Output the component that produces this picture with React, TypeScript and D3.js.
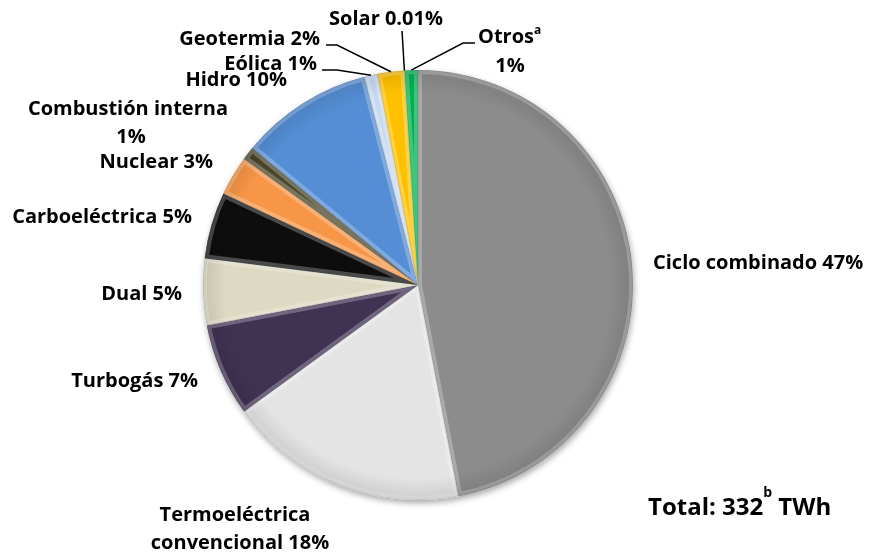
import React from 'react';
import * as d3 from 'd3';

const categories = [
  'Ciclo combinado', 'Termoeléctrica convencional', 'Turbogás', 'Dual', 'Carboeléctrica',
  'Nuclear', 'Combustión interna', 'Hidro', 'Eólica', 'Geotermia', 'Solar', 'Otros',
];
const shares = [47, 18, 7, 5, 5, 3, 1, 10, 1, 2, 0.01, 1];
const shareLabels = ['47%', '18%', '7%', '5%', '5%', '3%', '1%', '10%', '1%', '2%', '0.01%', '1%'];
const sliceColors = [
  '#8C8C8C', '#E4E4E4', '#403152', '#DDD9C3', '#0D0D0D', '#F79646',
  '#4A452A', '#558ED5', '#C6D9F1', '#FFC000', '#FFFF00', '#00B050',
];
const totalValue = '332';
const totalNote = 'b';
const totalUnit = 'TWh';

// label layout (text placement only)
type Line = { t: string; x: number; y: number; a: 'start' | 'middle' | 'end'; sup?: string };
const labelLayout: Line[][] = [
  [{ t: `${categories[0]} ${shareLabels[0]}`, x: 653, y: 269, a: 'start' }],
  [
    { t: 'Termoeléctrica', x: 235, y: 521, a: 'middle' },
    { t: `convencional ${shareLabels[1]}`, x: 240, y: 549, a: 'middle' },
  ],
  [{ t: `${categories[2]} ${shareLabels[2]}`, x: 198, y: 387, a: 'end' }],
  [{ t: `${categories[3]} ${shareLabels[3]}`, x: 182, y: 300, a: 'end' }],
  [{ t: `${categories[4]} ${shareLabels[4]}`, x: 192, y: 223, a: 'end' }],
  [{ t: `${categories[5]} ${shareLabels[5]}`, x: 213, y: 168, a: 'end' }],
  [
    { t: categories[6], x: 228, y: 115, a: 'end' },
    { t: shareLabels[6], x: 131, y: 143, a: 'middle' },
  ],
  [{ t: `${categories[7]} ${shareLabels[7]}`, x: 287, y: 86, a: 'end' }],
  [{ t: `${categories[8]} ${shareLabels[8]}`, x: 317, y: 70, a: 'end' }],
  [{ t: `${categories[9]} ${shareLabels[9]}`, x: 320, y: 45, a: 'end' }],
  [{ t: `${categories[10]} ${shareLabels[10]}`, x: 386, y: 25, a: 'middle' }],
  [
    { t: categories[11], x: 478, y: 43, a: 'start', sup: 'a' },
    { t: shareLabels[11], x: 510, y: 72, a: 'middle' },
  ],
];
// leader lines: start and elbow points; end is computed on the pie edge
const leaders: { i: number; pts: [number, number][] }[] = [
  { i: 11, pts: [[475, 43], [463, 43]] },
  { i: 10, pts: [[402, 31]] },
  { i: 9, pts: [[326, 45], [337, 45]] },
  { i: 8, pts: [[322, 70], [337, 70]] },
];

const W = 869;
const H = 554;
const cx = 418;
const cy = 285;
const R = 215;
const FONT = '"Open Sans", Lato, sans-serif';

export default function App() {
  const pie = d3.pie<number>().sort(null).value((d) => d).startAngle(0).endAngle(2 * Math.PI);
  const arcs = pie(shares);
  const arc = d3.arc<d3.PieArcDatum<number>>().innerRadius(0).outerRadius(R);
  const mid = (a: d3.PieArcDatum<number>) => (a.startAngle + a.endAngle) / 2;
  const edge = (a: d3.PieArcDatum<number>): [number, number] => [
    cx + R * Math.sin(mid(a)),
    cy - R * Math.cos(mid(a)),
  ];
  const line = d3.line();

  return (
    <svg width={W} height={H} style={{ position: 'absolute', left: 0, top: 0, background: '#fff' }}>
      <defs>
        <filter id="shadow" x="-20%" y="-20%" width="140%" height="140%">
          <feDropShadow dx="1" dy="3" stdDeviation="3" floodColor="#000" floodOpacity="0.35" />
        </filter>
        {arcs.map((a, i) => (
          <clipPath id={`clip${i}`} key={i}>
            <path d={arc(a) || ''} transform={`translate(${cx},${cy})`} />
          </clipPath>
        ))}
        <radialGradient id="shade" cx="0.5" cy="0.5" r="0.5">
          <stop offset="0.9" stopColor="#000" stopOpacity="0" />
          <stop offset="1" stopColor="#000" stopOpacity="0.1" />
        </radialGradient>
      </defs>
      <g filter="url(#shadow)">
        {arcs.map((a, i) => (
          <path key={i} d={arc(a) || ''} transform={`translate(${cx},${cy})`} fill={sliceColors[i]} />
        ))}
      </g>
      {arcs.map((a, i) => (
        <g key={`b${i}`} clipPath={`url(#clip${i})`}>
          <path
            d={arc(a) || ''}
            transform={`translate(${cx},${cy})`}
            fill="none"
            stroke="#fff"
            strokeOpacity={0.25}
            strokeWidth={8}
            strokeLinejoin="round"
          />
          <path
            d={arc(a) || ''}
            transform={`translate(${cx},${cy})`}
            fill="none"
            stroke="#000"
            strokeOpacity={0.12}
            strokeWidth={1.2}
          />
        </g>
      ))}
      <circle cx={cx} cy={cy} r={R} fill="url(#shade)" />
      {leaders.map((l, k) => (
        <path
          key={`l${k}`}
          d={line([...l.pts, edge(arcs[l.i])]) || ''}
          fill="none"
          stroke="#000"
          strokeWidth={1.5}
        />
      ))}
      {labelLayout.map((lines, i) =>
        lines.map((ln, j) => (
          <text
            key={`t${i}-${j}`}
            x={ln.x}
            y={ln.y}
            textAnchor={ln.a}
            fontFamily={FONT}
            fontWeight="bold"
            fontSize={20}
            fill="#000"
          >
            {ln.t}
            {ln.sup ? (
              <tspan fontSize={12} dy={-9}>
                {ln.sup}
              </tspan>
            ) : null}
          </text>
        ))
      )}
      <text x={648} y={515} fontFamily={FONT} fontWeight="bold" fontSize={24} fill="#000">
        {`Total: ${totalValue}`}
        <tspan fontSize={14} dy={-18}>{totalNote}</tspan>
        <tspan dy={18}>{` ${totalUnit}`}</tspan>
      </text>
    </svg>
  );
}
